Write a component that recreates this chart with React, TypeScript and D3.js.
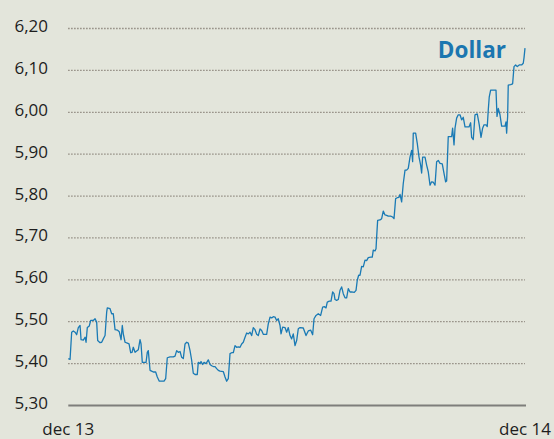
import React from "react";
import * as d3 from "d3";

// days since dec 13 (x) and USD rate (y)
const days: number[] = [
  0, 1.4, 2.7, 4, 5.4, 6.7, 8, 9.4, 10.2, 12, 13.4, 14.2, 15.2, 16.8, 17.9, 20, 21.4, 22.7, 23.5, 25.4,
  26.7, 28, 29.4, 30.7, 31.2, 33.4, 34.7, 36, 37.4, 39.2, 40.8, 42.2, 43.2, 44, 45.4, 47.2, 48.6, 49.9, 51, 52,
  53.4, 54.7, 56, 57.4, 58.2, 59.2, 60.8, 62.2, 63.2, 64, 65.4, 66.7, 68, 69.9, 71.2, 72.8, 74.7, 76.6, 77.9, 79.2,
  81.4, 84, 85.4, 86.7, 88, 89.4, 90.7, 92, 93.4, 94.7, 96, 97.4, 98.7, 100, 101.4, 103.2, 104, 105.4, 106.2, 107.5,
  108.6, 110.2, 112, 113.4, 114.7, 116, 117.4, 118.7, 120, 121.4, 124, 125.4, 126.7, 128, 129.4, 130.7, 132, 133.4, 134.7, 136,
  137.4, 138.7, 140, 141.4, 142.7, 144, 145.4, 146.7, 148, 149.4, 150.7, 152, 153.4, 154.7, 156, 158.7, 160, 161.4, 162.7, 164,
  165.4, 166.7, 168, 169.4, 170.2, 171.5, 173.4, 174.7, 176, 177.4, 178.7, 180, 181.4, 182.7, 184, 185.4, 188, 190.2, 192, 193.9,
  195.5, 196.6, 198.2, 200, 201.9, 203.5, 204.8, 206.2, 207.2, 208.8, 210.2, 211.5, 212.6, 213.4, 214.7, 216, 217.4, 218.7, 220, 221.4,
  222.7, 224, 225.4, 226.7, 228.8, 230.2, 231.2, 232.3, 233.4, 234.7, 236, 237.4, 238.7, 240, 241.9, 243.2, 244, 245.4, 246.2, 246.7,
  247.5, 249.4, 250.7, 252, 253.4, 254.7, 256, 257.9, 259.5, 260.6, 261.9, 263.2, 264.6, 265.4, 266.7, 268, 269.4, 270.7, 272, 273.4,
  274.7, 275.5, 276, 277.9, 279.2, 280.6, 281.9, 282.7, 283.5, 285.4, 286.7, 288, 289.4, 290.7, 292, 293.4, 294.7, 296, 297.4, 299.2,
  300.6, 301.9, 302.7, 304, 305.4, 306.7, 307.5, 308.6, 309.4, 310.7, 312, 313.4, 314.7, 316, 317.4, 318.7, 320.6, 321.9, 322.7, 324,
  325.4, 327.2, 328.8, 330.2, 331.5, 332.6, 334.2, 335.2, 336, 336.8, 337.9, 341.4, 342.2, 343, 344, 345.4, 346.7, 349.4, 350.2, 350.7,
  351.5, 352, 353.9, 355.5, 356.6, 357.9, 359.2, 360.8, 362.7, 364, 364.6, 365.4,
];

const rates: number[] = [
  5.412, 5.41, 5.475, 5.478, 5.475, 5.469, 5.486, 5.491, 5.457, 5.456, 5.463, 5.451, 5.486, 5.49, 5.503, 5.503, 5.507, 5.499, 5.455, 5.45,
  5.451, 5.459, 5.467, 5.523, 5.533, 5.531, 5.519, 5.519, 5.481, 5.48, 5.476, 5.457, 5.491, 5.471, 5.451, 5.449, 5.447, 5.426, 5.427, 5.439,
  5.427, 5.43, 5.433, 5.457, 5.447, 5.403, 5.403, 5.403, 5.427, 5.431, 5.384, 5.382, 5.38, 5.38, 5.368, 5.358, 5.358, 5.358, 5.364, 5.414,
  5.416, 5.416, 5.418, 5.431, 5.427, 5.429, 5.415, 5.412, 5.447, 5.451, 5.449, 5.431, 5.408, 5.377, 5.374, 5.374, 5.403, 5.4, 5.405, 5.398,
  5.403, 5.4, 5.409, 5.398, 5.395, 5.393, 5.393, 5.388, 5.384, 5.382, 5.381, 5.368, 5.358, 5.364, 5.424, 5.426, 5.426, 5.443, 5.439, 5.44,
  5.439, 5.447, 5.451, 5.463, 5.473, 5.471, 5.475, 5.467, 5.486, 5.481, 5.47, 5.467, 5.483, 5.479, 5.47, 5.47, 5.495, 5.511, 5.509, 5.512,
  5.511, 5.503, 5.507, 5.491, 5.471, 5.487, 5.486, 5.475, 5.486, 5.467, 5.459, 5.471, 5.443, 5.455, 5.483, 5.486, 5.485, 5.467, 5.478, 5.48,
  5.469, 5.507, 5.515, 5.519, 5.515, 5.535, 5.536, 5.533, 5.547, 5.549, 5.549, 5.571, 5.567, 5.553, 5.551, 5.553, 5.575, 5.583, 5.567, 5.557,
  5.557, 5.579, 5.571, 5.571, 5.57, 5.575, 5.599, 5.611, 5.611, 5.632, 5.631, 5.647, 5.646, 5.653, 5.654, 5.654, 5.671, 5.669, 5.674, 5.702,
  5.742, 5.743, 5.746, 5.764, 5.755, 5.754, 5.752, 5.752, 5.75, 5.746, 5.794, 5.796, 5.797, 5.804, 5.786, 5.83, 5.862, 5.862, 5.866, 5.893,
  5.909, 5.882, 5.95, 5.95, 5.926, 5.893, 5.874, 5.855, 5.893, 5.893, 5.874, 5.858, 5.826, 5.834, 5.833, 5.826, 5.882, 5.885, 5.878, 5.877,
  5.854, 5.834, 5.836, 5.942, 5.942, 5.942, 5.962, 5.922, 5.962, 5.986, 5.994, 5.994, 5.982, 5.988, 5.965, 5.965, 5.965, 5.975, 5.94, 5.935,
  5.994, 5.996, 5.97, 5.94, 5.962, 5.97, 5.97, 5.966, 6.005, 6.037, 6.053, 6.053, 6.053, 5.99, 6.009, 5.994, 5.967, 5.967, 5.977, 5.95,
  5.99, 6.065, 6.066, 6.068, 6.109, 6.113, 6.109, 6.113, 6.113, 6.117, 6.13, 6.153,
];

const yTicks: number[] = [5.3, 5.4, 5.5, 5.6, 5.7, 5.8, 5.9, 6.0, 6.1, 6.2];
const xLabels: string[] = ["dec 13", "dec 14"];
const seriesName = "Dollar";

const W = 554;
const H = 439;

export default function App() {
  const x = d3.scaleLinear().domain([0, 365.4]).range([68.3, 525]);
  const y = d3.scaleLinear().domain([5.3, 6.2]).range([405.5, 28.5]);
  const pts: [number, number][] = days.map((d, i) => [d, rates[i]]);
  const line = d3
    .line<[number, number]>()
    .x((d) => x(d[0]))
    .y((d) => y(d[1]))
    .curve(d3.curveLinear);
  const fmt = (v: number) => v.toFixed(2).replace(".", ",");
  const font = "'Open Sans', 'Noto Sans', sans-serif";
  const [x0, x1] = x.range();

  return (
    <div style={{ position: "fixed", left: 0, top: 0, width: W, height: H }}>
      <svg width={W} height={H} style={{ display: "block", background: "#e3e5db" }}>
        {yTicks.map((t) =>
          t === 5.3 ? (
            <line key={t} x1={x0} x2={x1 + 1} y1={y(t)} y2={y(t)} stroke="#7e7e7b" strokeWidth={2} />
          ) : (
            <line
              key={t}
              x1={x0}
              x2={x1}
              y1={y(t)}
              y2={y(t)}
              stroke="#7d756b"
              strokeWidth={1.3}
              strokeDasharray="1.2 1.8"
            />
          )
        )}
        {yTicks.map((t) => (
          <text
            key={"l" + t}
            x={48}
            y={y(t) + 3.5}
            textAnchor="end"
            fontFamily={font}
            fontSize={17}
            fill="#1e1e1e"
          >
            {fmt(t)}
          </text>
        ))}
        <text x={x0} y={435} textAnchor="middle" fontFamily={font} fontSize={17} fill="#1e1e1e">
          {xLabels[0]}
        </text>
        <text x={x1} y={435} textAnchor="middle" fontFamily={font} fontSize={17} fill="#1e1e1e">
          {xLabels[1]}
        </text>
        <path d={line(pts) || ""} fill="none" stroke="#1a7ab5" strokeWidth={1.3} strokeLinejoin="round" />
        <text
          x={506}
          y={58}
          textAnchor="end"
          fontFamily={font}
          fontWeight={700}
          fontSize={22.5}
          fill="#1b76b0"
        >
          {seriesName}
        </text>
      </svg>
    </div>
  );
}
